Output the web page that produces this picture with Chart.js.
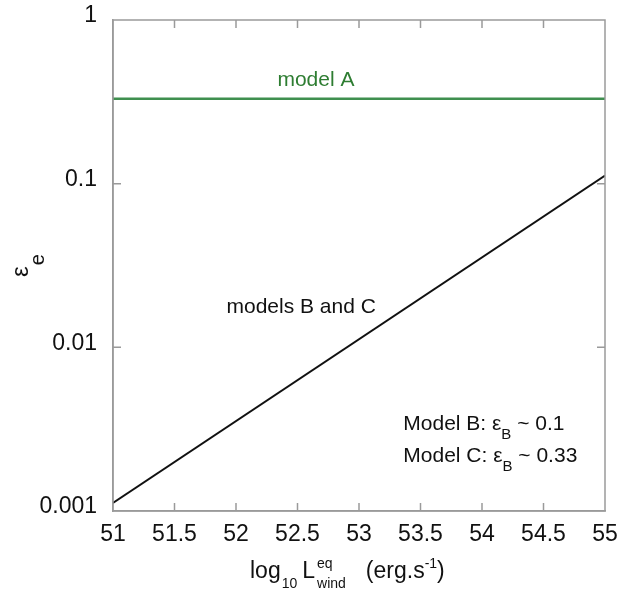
<!DOCTYPE html>
<html>
<head>
<meta charset="utf-8">
<script src="https://cdn.jsdelivr.net/npm/chart.js@4.4.1/dist/chart.umd.min.js"></script>
<style>
html,body{margin:0;padding:0;background:#fff;}
#wrap{width:619px;height:592px;position:relative;}
</style>
</head>
<body>
<div id="wrap"><canvas id="c" width="619" height="592"></canvas></div>
<script>
// ---- data ----
const xValues = [51, 55];
const modelA = [0.33, 0.33];
const modelsBC = [0.00112, 0.112];
const xTicks = [51, 51.5, 52, 52.5, 53, 53.5, 54, 54.5, 55];
const xTickLabels = ['51', '51.5', '52', '52.5', '53', '53.5', '54', '54.5', '55'];
const yTicks = [0.001, 0.01, 0.1, 1];
const yTickLabels = ['0.001', '0.01', '0.1', '1'];

const FONT = '"Liberation Sans", Arial, Helvetica, sans-serif';
const FRAME = '#9a9a9a';

function fnt(size) { return size + 'px ' + FONT; }

// draw a run of text segments: [text, size, dy]
function drawRich(ctx, x, y, segs, color, align) {
  ctx.save();
  ctx.fillStyle = color;
  ctx.textBaseline = 'alphabetic';
  ctx.textAlign = 'left';
  let total = 0;
  segs.forEach(s => { ctx.font = fnt(s[1]); total += ctx.measureText(s[0]).width; });
  let cx = x;
  if (align === 'center') cx = x - total / 2;
  segs.forEach(s => {
    ctx.font = fnt(s[1]);
    ctx.fillText(s[0], cx, y + (s[2] || 0));
    cx += ctx.measureText(s[0]).width;
  });
  ctx.restore();
}

const decor = {
  id: 'decor',
  afterDatasetsDraw(chart) {
    const ctx = chart.ctx;
    const xs = chart.scales.x, ys = chart.scales.y;
    const a = chart.chartArea;
    ctx.save();
    // frame
    ctx.strokeStyle = FRAME;
    ctx.lineWidth = 1.5;
    ctx.strokeRect(a.left, a.top, a.right - a.left, a.bottom - a.top);
    // inward ticks
    const tl = 8;
    ctx.beginPath();
    xTicks.forEach(v => {
      const px = xs.getPixelForValue(v);
      if (v !== xTicks[0] && v !== xTicks[xTicks.length - 1]) {
        ctx.moveTo(px, a.bottom); ctx.lineTo(px, a.bottom - tl);
        ctx.moveTo(px, a.top); ctx.lineTo(px, a.top + tl);
      }
    });
    yTicks.forEach(v => {
      const py = ys.getPixelForValue(v);
      if (v !== yTicks[0] && v !== yTicks[yTicks.length - 1]) {
        ctx.moveTo(a.left, py); ctx.lineTo(a.left + tl, py);
        ctx.moveTo(a.right, py); ctx.lineTo(a.right - tl, py);
      }
    });
    ctx.stroke();
    ctx.restore();

    // annotations (anchored in data coordinates)
    drawRich(ctx, xs.getPixelForValue(52.65), ys.getPixelForValue(0.395),
      [['model A', 21, 0]], '#2e7d32', 'center');
    drawRich(ctx, xs.getPixelForValue(52.53), ys.getPixelForValue(0.0162),
      [['models B and C', 21, 0]], '#111', 'center');
    drawRich(ctx, xs.getPixelForValue(53.36), ys.getPixelForValue(0.00313),
      [['Model B: ', 21, 0], ['ε', 21, 0], ['B', 15, 9], [' ~ 0.1', 21, 0]], '#111', 'left');
    drawRich(ctx, xs.getPixelForValue(53.36), ys.getPixelForValue(0.0020),
      [['Model C: ', 21, 0], ['ε', 21, 0], ['B', 15, 9], [' ~ 0.33', 21, 0]], '#111', 'left');
  },
  afterDraw(chart) {
    const ctx = chart.ctx;
    ctx.save();
    ctx.fillStyle = '#111';
    ctx.textBaseline = 'alphabetic';
    ctx.textAlign = 'left';
    // x-axis title with stacked super/subscript
    let x = 250, y = 578;
    ctx.font = fnt(23); ctx.fillText('log', x, y); x += ctx.measureText('log').width;
    ctx.font = fnt(14); ctx.fillText('10', x + 1, y + 10); x += ctx.measureText('10').width + 6;
    ctx.font = fnt(23); ctx.fillText('L', x, y); x += ctx.measureText('L').width + 2;
    ctx.font = fnt(14);
    ctx.fillText('eq', x, y - 10);
    ctx.fillText('wind', x, y + 10);
    x += ctx.measureText('wind').width + 20;
    ctx.font = fnt(23); ctx.fillText('(erg.s', x, y); x += ctx.measureText('(erg.s').width;
    ctx.font = fnt(14); ctx.fillText('-1', x, y - 10); x += ctx.measureText('-1').width;
    ctx.font = fnt(23); ctx.fillText(')', x, y);

    // y-axis title: epsilon_e rotated
    ctx.translate(28, 277);
    ctx.rotate(-Math.PI / 2);
    ctx.font = fnt(24); ctx.fillText('ε', 0, 0);
    const w = ctx.measureText('ε').width;
    ctx.font = fnt(20); ctx.fillText('e', w + 1, 16);
    ctx.restore();
  }
};

new Chart(document.getElementById('c'), {
  type: 'line',
  data: {
    datasets: [
      {
        label: 'model A',
        data: xValues.map((x, i) => ({ x: x, y: modelA[i] })),
        borderColor: '#3f8f4f',
        borderWidth: 2.5,
        pointRadius: 0,
        fill: false
      },
      {
        label: 'models B and C',
        data: xValues.map((x, i) => ({ x: x, y: modelsBC[i] })),
        borderColor: '#111',
        borderWidth: 1.8,
        pointRadius: 0,
        fill: false
      }
    ]
  },
  options: {
    responsive: false,
    animation: false,
    layout: { padding: { top: 20, right: 14, left: 0, bottom: 0 } },
    plugins: { legend: { display: false }, tooltip: { enabled: false } },
    scales: {
      x: {
        type: 'linear',
        min: 51, max: 55,
        afterFit(s) { s.height = 81; s.paddingLeft = 0; s.paddingRight = 0; },
        afterBuildTicks(s) { s.ticks = xTicks.map(v => ({ value: v })); },
        grid: { drawOnChartArea: false, drawTicks: false },
        border: { display: true, color: FRAME, width: 1.5 },
        ticks: {
          padding: 10,
          color: '#111',
          font: { family: FONT, size: 23 },
          maxRotation: 0,
          autoSkip: false,
          callback(v) { const i = xTicks.indexOf(v); return i >= 0 ? xTickLabels[i] : ''; }
        }
      },
      y: {
        type: 'logarithmic',
        min: 0.001, max: 1,
        afterFit(s) { s.width = 113; s.paddingTop = 0; s.paddingBottom = 0; },
        afterBuildTicks(s) { s.ticks = yTicks.map(v => ({ value: v })); },
        grid: { drawOnChartArea: false, drawTicks: false },
        border: { display: true, color: FRAME, width: 1.5 },
        ticks: {
          padding: 16,
          color: '#111',
          labelOffset: -4,
          font: { family: FONT, size: 23 },
          autoSkip: false,
          callback(v) { const i = yTicks.indexOf(v); return i >= 0 ? yTickLabels[i] : ''; }
        }
      }
    }
  },
  plugins: [decor]
});
</script>
</body>
</html>
